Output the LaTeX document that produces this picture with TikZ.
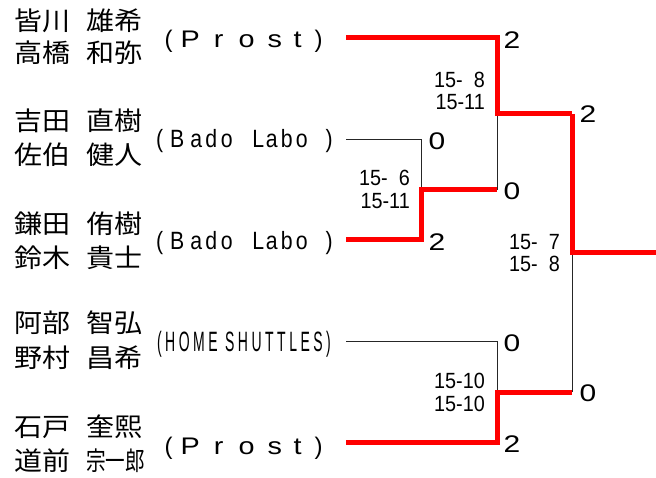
\documentclass[tikz,border=0pt]{standalone}
\usepackage{fontspec}
\setmainfont{Liberation Sans}
\newfontfamily\jp{Noto Sans CJK JP}
\newfontfamily\lsB[LetterSpace=25]{Liberation Sans}
\newcommand{\nmline}[2]{\scalebox{1}[0.92]{\makebox[72pt][l]{#1}#2}}
\newcommand{\pc}[1]{\makebox[0pt]{\scalebox{1.2}[1]{#1}}}
\newcommand{\bc}[1]{\makebox[0pt]{\scalebox{0.85}[1]{#1}}}
\newcommand{\prostname}{\makebox[0pt]{(}\hspace{21.5pt}\pc{P}\hspace{28.5pt}\pc{r}\hspace{28pt}\pc{o}\hspace{28pt}\pc{s}\hspace{23pt}\pc{t}\hspace{21pt}\makebox[0pt]{)}}
\newcommand{\badoname}{\bc{(}\hspace{17.5pt}\bc{B}\hspace{19pt}\bc{a}\hspace{15pt}\bc{d}\hspace{15.5pt}\bc{o}\hspace{31.5pt}\bc{L}\hspace{13.5pt}\bc{a}\hspace{15pt}\bc{b}\hspace{15pt}\bc{o}\hspace{27.5pt}\bc{)}}
\newcommand{\setsc}[2]{\scalebox{0.9}[1]{\begin{tabular}{@{}r@{}}#1\\#2\end{tabular}}}
\begin{document}
\begin{tikzpicture}[x=1pt,y=-1pt,
  win/.style={draw=red,line width=5pt,line join=miter},
  lose/.style={draw=black!85,line width=1pt},
  nm/.style={anchor=base west,inner sep=0pt,font=\jp\fontsize{28}{28}\selectfont},
  prost/.style={anchor=base west,inner sep=0pt,font=\fontsize{24}{24}\selectfont},
  bado/.style={anchor=base west,inner sep=0pt,font=\fontsize{25}{25}\selectfont},
  home/.style={anchor=base,inner sep=0pt,font=\lsB\fontsize{28}{28}\selectfont},
  big/.style={inner sep=0pt,font=\fontsize{24}{24}\selectfont},
  sc/.style={anchor=east,inner sep=0pt,font=\fontsize{22}{22.5}\selectfont}
]
\useasboundingbox (0,0) rectangle (656,478);
% names
\node[nm] (n1a) at (14,31) {\nmline{皆川}{雄希}};
\node[nm] (n1b) at (14,63) {\nmline{高橋}{和弥}};
\node[nm] (n2a) at (14,131) {\nmline{吉田}{直樹}};
\node[nm] (n2b) at (14,165) {\nmline{佐伯}{健人}};
\node[nm] (n3a) at (14,234) {\nmline{鎌田}{侑樹}};
\node[nm] (n3b) at (14,268) {\nmline{鈴木}{貴士}};
\node[nm] (n4a) at (14,333) {\nmline{阿部}{智弘}};
\node[nm] (n4b) at (14,367) {\nmline{野村}{昌希}};
\node[nm] (n5a) at (14,436) {\nmline{石戸}{奎熙}};
\node[nm] (n5b) at (14,470) {\nmline{道前}{\scalebox{0.7}[1]{宗一郎}}};
% teams
\node[prost] (t1) at (168.5,48) {\prostname};
\node[bado] (t2) at (159.5,148) {\badoname};
\node[bado] (t3) at (159.5,249.5) {\badoname};
\node[home] (t4) at (244,352) {\scalebox{0.5}[1]{(HOME SHUTTLES)}};
\node[prost] (t5) at (168.5,454) {\prostname};
% bracket coordinates
\coordinate (a0) at (346,38);
\coordinate (b0) at (346,140);
\coordinate (c0) at (346,240);
\coordinate (d0) at (346,342);
\coordinate (e0) at (346,442);
\coordinate (b1) at (421,140);
\coordinate (c1) at (421,240);
\coordinate (bc) at (421,190);
\coordinate (bc2) at (497,190);
\coordinate (a1) at (497,38);
\coordinate (abc) at (497,114);
\coordinate (abc2) at (572,114);
\coordinate (d1) at (497,342);
\coordinate (e1) at (497,442);
\coordinate (de) at (497,392);
\coordinate (de2) at (572,392);
\coordinate (f) at (572,253);
\coordinate (f2) at (656,253);
% losers
\draw[lose] (b0) -- (b1) -- (bc);
\draw[lose] (bc2) -- (abc);
\draw[lose] (d0) -- (d1) -- (de);
\draw[lose] (de2) -- (f);
% winners
\draw[win] (c0) -- (c1) -- (bc) -- (bc2);
\draw[win] (a0) -- (a1) -- (abc) -- (abc2);
\draw[win] (e0) -- (e1) -- (de) -- (de2);
\draw[win] (abc2) -- (f) -- (f2);
% game scores
\node[big] (s1) at (512,40) {\scalebox{1.25}[1]{2}};
\node[big] (s2) at (437,141) {\scalebox{1.25}[1]{0}};
\node[big] (s3) at (437,242) {\scalebox{1.25}[1]{2}};
\node[big] (s4) at (512,191) {\scalebox{1.25}[1]{0}};
\node[big] (s5) at (588,114) {\scalebox{1.25}[1]{2}};
\node[big] (s6) at (512,343) {\scalebox{1.25}[1]{0}};
\node[big] (s7) at (512,444) {\scalebox{1.25}[1]{2}};
\node[big] (s8) at (588,393) {\scalebox{1.25}[1]{0}};
% set scores
\node[sc] (p1) at (485,94) {\setsc{15-\hphantom{0}8}{15-11}};
\node[sc] (p2) at (410,192.5) {\setsc{15-\hphantom{0}6}{15-11}};
\node[sc] (p3) at (560,256) {\setsc{15-\hphantom{0}7}{15-\hphantom{0}8}};
\node[sc] (p4) at (485,395.5) {\setsc{15-10}{15-10}};
\end{tikzpicture}
\end{document}
